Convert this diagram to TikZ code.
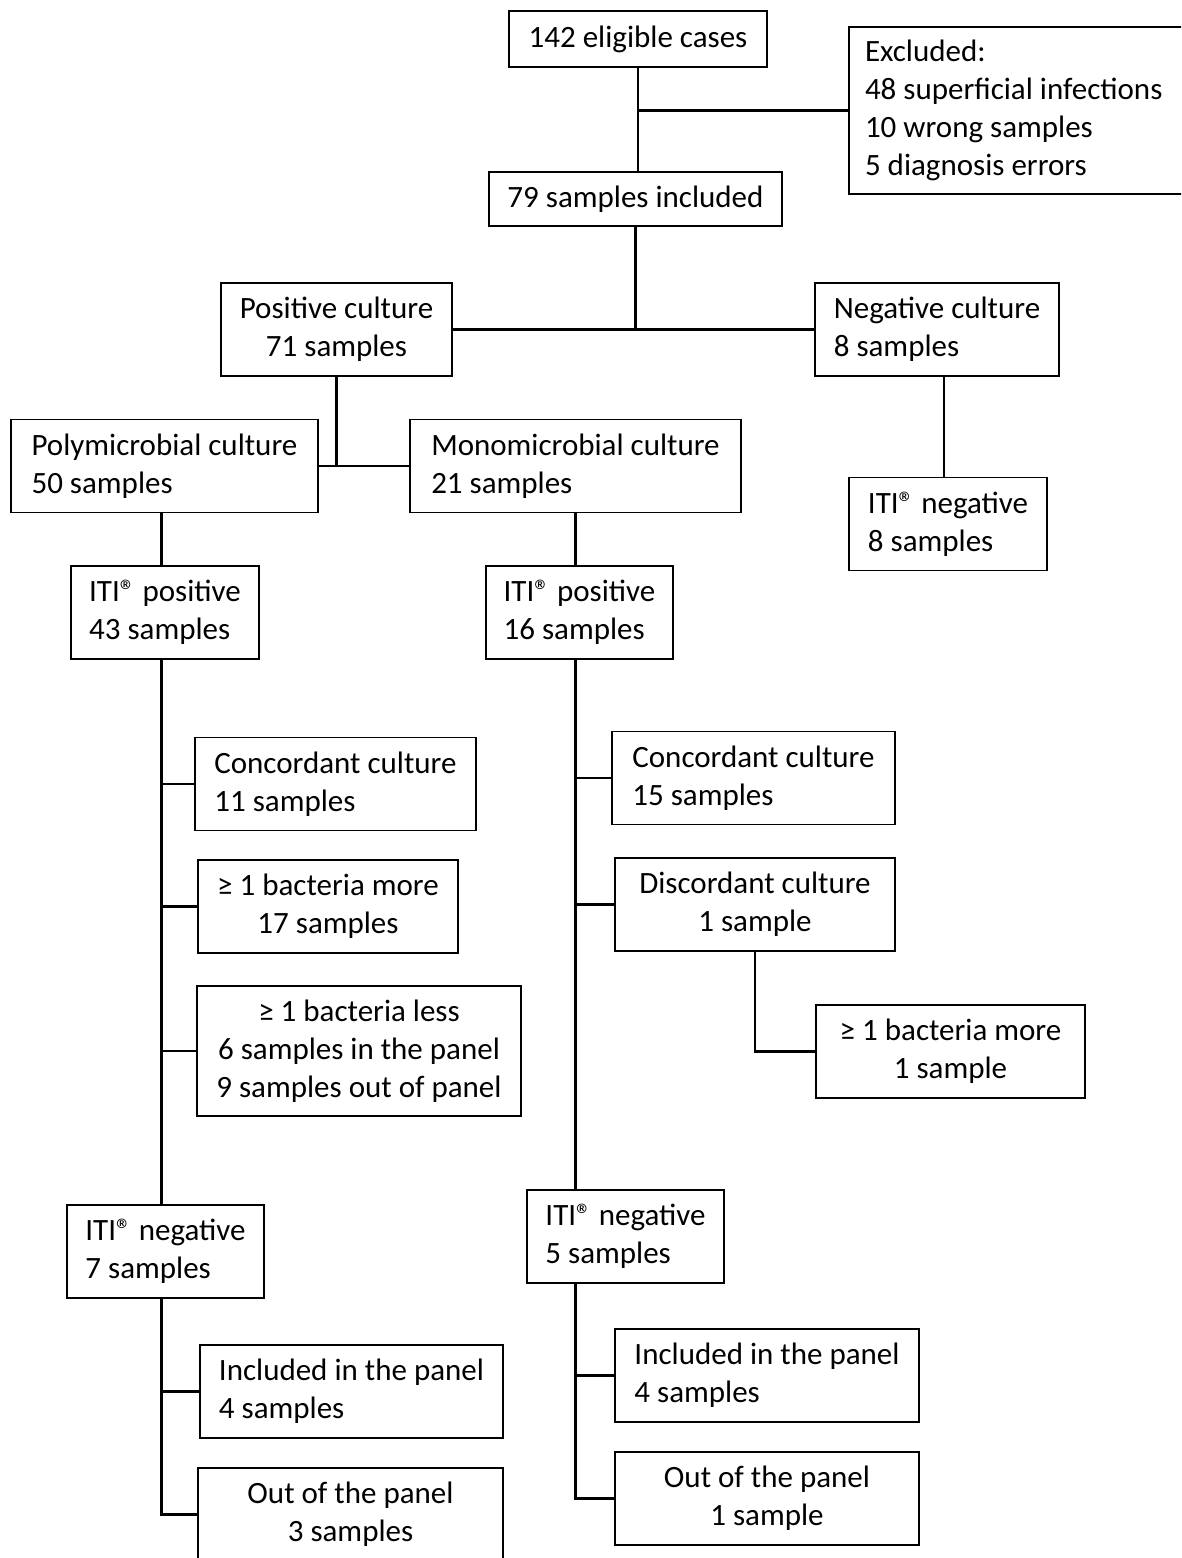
\documentclass[tikz,border=0pt]{standalone}
\usepackage{fontspec}
\setmainfont{Carlito}

\begin{document}
\begin{tikzpicture}[x=1pt, y=-1pt, black,
    font=\fontsize{31pt}{38pt}\selectfont,
    box/.style={draw, rectangle, line width=1.5pt, inner sep=0pt, align=left, minimum height=93pt},
    link/.style={draw, line width=2.8pt}]
  \useasboundingbox (0,0) rectangle (1181,1558);
  \clip (0,0) rectangle (1181,1558);

  \node[box, align=center, minimum width=258pt, minimum height=56pt] at (638, 39) (eligible) {142 eligible cases};

  \node[box, align=flush left, inner xsep=16pt, text width=320pt, minimum height=167pt] at (1025, 110.5) (excluded) {Excluded:\\48 superficial infections\\10 wrong samples\\5 diagnosis errors};

  \node[box, align=center, minimum width=293pt, minimum height=54pt] at (635.5, 199) (included) {79 samples included};

  \node[box, align=center, minimum width=231pt] at (336.5, 329.5) (poscult) {Positive culture\\71 samples};
  \node[box, minimum width=244pt] at (937, 329.5) (negcult) {Negative culture\\8 samples};

  \node[box, minimum width=198pt] at (948, 524) (itineg8) {ITI® negative\\8 samples};

  \node[box, minimum width=307pt] at (164.5, 466) (poly) {Polymicrobial culture\\50 samples};
  \node[box, minimum width=331pt] at (575.5, 466) (mono) {Monomicrobial culture\\21 samples};

  \node[box, minimum width=188pt] at (165, 612.5) (itipos43) {ITI® positive\\43 samples};
  \node[box, minimum width=187pt] at (579.5, 612.5) (itipos16) {ITI® positive\\16 samples};

  \node[box, minimum width=281pt] at (335.5, 784) (conc11) {Concordant culture\\11 samples};
  \node[box, align=center, minimum width=260pt] at (328, 906.5) (more17) {≥ 1 bacteria more\\17 samples};
  \node[box, align=center, minimum width=324pt, minimum height=130pt] at (359, 1051) (less) {≥ 1 bacteria less\\6 samples in the panel\\9 samples out of panel};

  \node[box, minimum width=283pt] at (753.5, 778) (conc15) {Concordant culture\\15 samples};
  \node[box, align=center, minimum width=280pt] at (755, 904.5) (disc1) {Discordant culture\\1 sample};
  \node[box, align=center, minimum width=269pt] at (950.5, 1051.5) (more1) {≥ 1 bacteria more\\1 sample};

  \node[box, minimum width=197pt] at (165.5, 1251.5) (itineg7) {ITI® negative\\7 samples};
  \node[box, minimum width=303pt] at (351.5, 1391.5) (panel4l) {Included in the panel\\4 samples};
  \node[box, align=center, minimum width=305pt] at (350.5, 1514.5) (out3) {Out of the panel\\3 samples};

  \node[box, minimum width=197pt] at (625.5, 1236.5) (itineg5) {ITI® negative\\5 samples};
  \node[box, minimum width=304pt] at (767, 1375.5) (panel4r) {Included in the panel\\4 samples};
  \node[box, align=center, minimum width=304pt] at (767, 1498.5) (out1) {Out of the panel\\1 sample};

  \draw[link] (eligible.south) -- (eligible.south |- included.north);
  \draw[link] (excluded.west) -- (excluded.west -| eligible.south);
  \draw[link] (included.south) -- (included.south |- poscult.east);
  \draw[link] (poscult.east) -- (negcult.west);
  \draw[link] ([xshift=7pt]negcult.south) -- ([xshift=7pt]negcult.south |- itineg8.north);

  \draw[link] (poscult.south) -- (poscult.south |- poly.east);
  \draw[link] (poly.east) -- (mono.west);
  \draw[link] ([xshift=-3pt]poly.south) -- ([xshift=-3pt]poly.south |- itipos43.north);
  \draw[link] (mono.south) -- (mono.south |- itipos16.north);

  \draw[link] ([xshift=-3pt]itipos43.south -| poly.south) -- ([xshift=-3pt]itineg7.north -| poly.south);
  \draw[link] (conc11.west) -- ([xshift=-3pt]conc11.west -| poly.south);
  \draw[link] (more17.west) -- ([xshift=-3pt]more17.west -| poly.south);
  \draw[link] (less.west) -- ([xshift=-3pt]less.west -| poly.south);
  \draw[link] ([xshift=-3pt]itineg7.south -| poly.south) |- (out3.west);
  \draw[link] (panel4l.west) -- ([xshift=-3pt]panel4l.west -| poly.south);

  \draw[link] (itipos16.south -| mono.south) -- (itineg5.north -| mono.south);
  \draw[link] (conc15.west) -- (conc15.west -| mono.south);
  \draw[link] (disc1.west) -- (disc1.west -| mono.south);
  \draw[link] (disc1.south) |- (more1.west);
  \draw[link] (itineg5.south -| mono.south) |- (out1.west);
  \draw[link] (panel4r.west) -- (panel4r.west -| mono.south);

\end{tikzpicture}
\end{document}
